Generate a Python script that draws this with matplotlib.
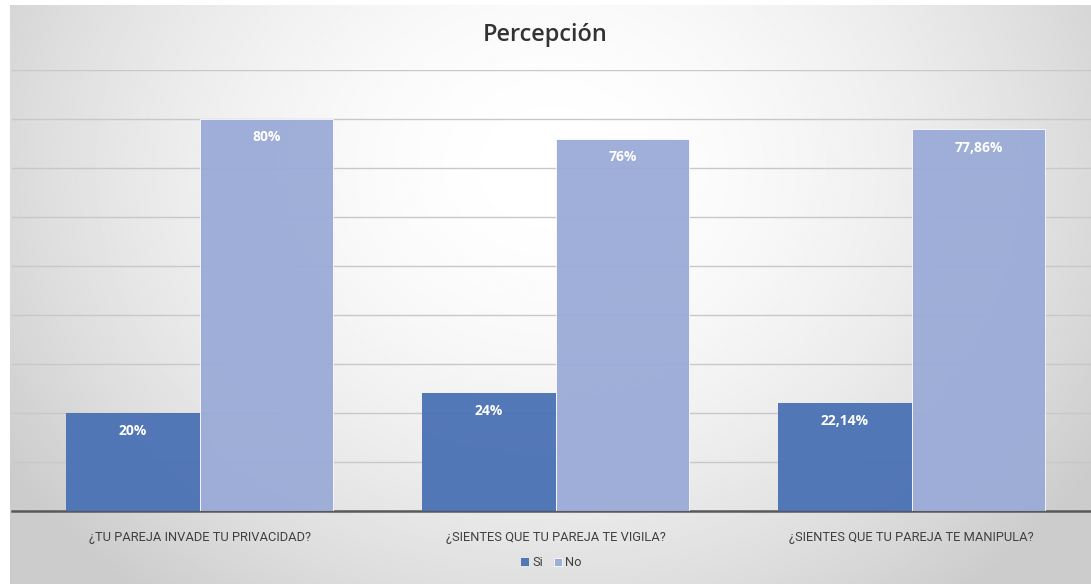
import matplotlib.pyplot as plt
from matplotlib import font_manager
import numpy as np

# data
categories = ['¿TU PAREJA INVADE TU PRIVACIDAD?',
              '¿SIENTES QUE TU PAREJA TE VIGILA?',
              '¿SIENTES QUE TU PAREJA TE MANIPULA?']
si_values = [20, 24, 22.14]
no_values = [80, 76, 77.86]
si_labels = ['20%', '24%', '22,14%']
no_labels = ['80%', '76%', '77,86%']

si_color = '#4a71b4'
no_color = '#9babd7'

# narrow font if there is one, else a normal sans
names = {f.name for f in font_manager.fontManager.ttflist}
narrow = 'Liberation Sans Narrow' in names
plt.rcParams['font.family'] = ['Liberation Sans Narrow' if narrow else 'Roboto', 'DejaVu Sans']
cat_size = 11 if narrow else 9.3

W, H = 1091, 584
fig = plt.figure(figsize=(W / 100, H / 100), dpi=100)

# radial grey background behind the chart frame
bg = fig.add_axes([10 / W, 0, 1 - 10 / W, 1 - 5 / H])
bg.set_axis_off()
yy, xx = np.mgrid[0:1:300j, 0:1:600j]
r = np.sqrt(((xx - 0.5) / 0.6) ** 2 + ((yy - 0.72) / 0.95) ** 2)
shade = 1.0 - 0.2 * np.clip(r, 0, 1) ** 1.8
bg.imshow(shade, cmap='gray', vmin=0, vmax=1, aspect='auto', origin='lower',
          extent=[0, 1, 0, 1], interpolation='bilinear')
bg.set_xlim(0, 1)
bg.set_ylim(0, 1)

# plot area
left, right = 12, 1091
bottom, top = 511, 70
ax = fig.add_axes([left / W, 1 - bottom / H, (right - left) / W, (bottom - top) / H])
ax.patch.set_alpha(0)

x = np.arange(len(categories))
width = 0.375
bars_si = ax.bar(x - width / 2, si_values, width, color=si_color, alpha=0.95,
                 label='Si', zorder=3)
bars_no = ax.bar(x + width / 2, no_values, width, color=no_color, alpha=0.95,
                 label='No', zorder=3, edgecolor='white', linewidth=0.6)

for bars, labels in [(bars_si, si_labels), (bars_no, no_labels)]:
    for b, lab in zip(bars, labels):
        ax.annotate(lab, (b.get_x() + b.get_width() / 2, b.get_height()),
                    xytext=(0, -13), textcoords='offset points',
                    ha='center', va='center', color='white',
                    fontsize=10, fontweight='bold', zorder=4,
                    family=['Open Sans', 'DejaVu Sans'])

ax.set_xlim(-0.527, 2.504)
ax.set_ylim(0, 90)
ax.set_yticks(np.arange(10, 91, 10))
ax.yaxis.grid(True, color='#c8c8c8', linewidth=1, zorder=0)
ax.tick_params(axis='y', left=False, labelleft=False)
ax.tick_params(axis='x', bottom=False, labelsize=cat_size, labelcolor='#404040', pad=11)
ax.set_xticks(x)
ax.set_xticklabels(categories)
for s in ['top', 'right', 'left']:
    ax.spines[s].set_visible(False)
ax.spines['bottom'].set_color('#595959')
ax.spines['bottom'].set_linewidth(1.8)

fig.text(0.5, 1 - 35 / H, 'Percepción', ha='center', va='center',
         fontsize=17, color='#333333', family=['Open Sans', 'DejaVu Sans'],
         fontweight='semibold')

leg_y = -(563 - bottom) / (bottom - top)
ax.legend(loc='center', bbox_to_anchor=(0.5, leg_y),
          ncol=2, frameon=False, fontsize=cat_size, handlelength=0.6, handleheight=0.6,
          handletextpad=0.3, columnspacing=0.8, labelcolor='#404040')

fig.savefig('out.png', dpi=100)
